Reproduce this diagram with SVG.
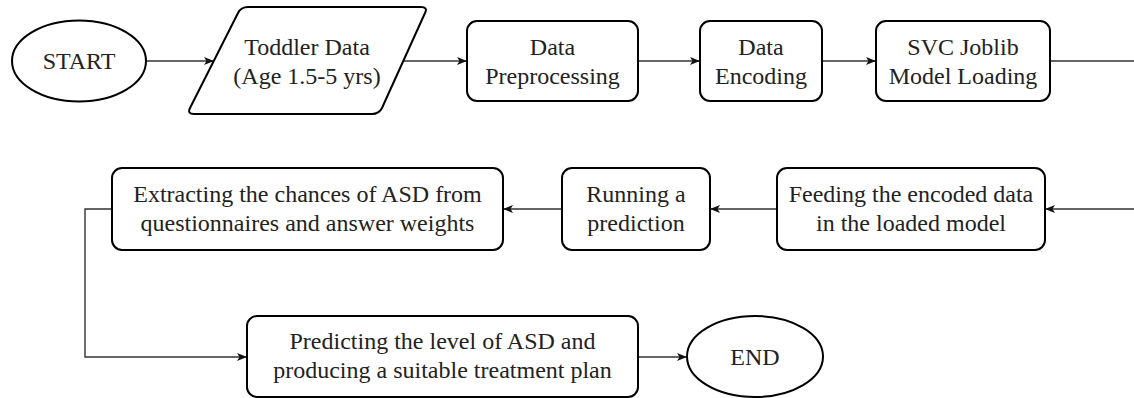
<svg xmlns="http://www.w3.org/2000/svg" width="1134" height="398" viewBox="0 0 1134 398">
<style>
.n{fill:#fff;stroke:#000;stroke-width:2}
.t{font-family:'Liberation Serif','Times New Roman',serif;font-size:24px;fill:#222;text-anchor:middle}
.c{fill:none;stroke:#333;stroke-width:1.4}
</style>
<defs>
<marker id="a" viewBox="0 0 10 10" refX="9" refY="5" markerWidth="10" markerHeight="10" markerUnits="userSpaceOnUse" orient="auto">
<path d="M0,1 L10,5 L0,9 L2.5,5 Z" fill="#111"/>
</marker>
</defs>
<rect width="1134" height="398" fill="#fff"/>
<g id="connectors">
<line class="c" x1="146" y1="61" x2="213" y2="61" marker-end="url(#a)"/>
<line class="c" x1="403" y1="61" x2="466" y2="61" marker-end="url(#a)"/>
<line class="c" x1="638" y1="61" x2="699" y2="61" marker-end="url(#a)"/>
<line class="c" x1="822" y1="61" x2="875" y2="61" marker-end="url(#a)"/>
<line class="c" x1="1050" y1="61" x2="1134" y2="61"/>
<line class="c" x1="1134" y1="209" x2="1046" y2="209" marker-end="url(#a)"/>
<line class="c" x1="777" y1="209" x2="711" y2="209" marker-end="url(#a)"/>
<line class="c" x1="562" y1="209" x2="504" y2="209" marker-end="url(#a)"/>
<polyline class="c" points="112,209 85,209 85,357 246,357" marker-end="url(#a)"/>
<line class="c" x1="638" y1="357" x2="686" y2="357" marker-end="url(#a)"/>
</g>
<g id="start">
<ellipse class="n" cx="79" cy="61" rx="67" ry="40.5"/>
<text class="t" x="79" y="69">START</text>
</g>
<g id="toddler">
<path class="n" d="M248,7 L421,7 Q428,7 425,13 L382,108 Q379,114 372,114 L194,114 Q187,114 190,108 L238,13 Q241,7 248,7 Z"/>
<text class="t" x="307" y="55">Toddler Data</text>
<text class="t" x="307" y="84">(Age 1.5-5 yrs)</text>
</g>
<g id="preprocessing">
<rect class="n" x="467" y="21" width="171" height="80" rx="10"/>
<text class="t" x="552.5" y="55">Data</text>
<text class="t" x="552.5" y="84">Preprocessing</text>
</g>
<g id="encoding">
<rect class="n" x="700" y="21" width="122" height="80" rx="10"/>
<text class="t" x="761" y="55">Data</text>
<text class="t" x="761" y="84">Encoding</text>
</g>
<g id="svc">
<rect class="n" x="876" y="21" width="174" height="80" rx="10"/>
<text class="t" x="963" y="55">SVC Joblib</text>
<text class="t" x="963" y="84">Model Loading</text>
</g>
<g id="feeding">
<rect class="n" x="777" y="168" width="268" height="82" rx="10"/>
<text class="t" x="911" y="202">Feeding the encoded data</text>
<text class="t" x="911" y="231">in the loaded model</text>
</g>
<g id="running">
<rect class="n" x="562" y="168" width="148" height="82" rx="10"/>
<text class="t" x="636" y="202">Running a</text>
<text class="t" x="636" y="231">prediction</text>
</g>
<g id="extracting">
<rect class="n" x="112" y="168" width="391" height="82" rx="10"/>
<text class="t" x="307.5" y="202">Extracting the chances of ASD from</text>
<text class="t" x="307.5" y="231">questionnaires and answer weights</text>
</g>
<g id="predicting">
<rect class="n" x="247" y="316" width="391" height="81" rx="10"/>
<text class="t" x="442.5" y="349">Predicting the level of ASD and</text>
<text class="t" x="442.5" y="378">producing a suitable treatment plan</text>
</g>
<g id="end">
<ellipse class="n" cx="755" cy="356.5" rx="68" ry="40.5"/>
<text class="t" x="755" y="365">END</text>
</g>
</svg>
